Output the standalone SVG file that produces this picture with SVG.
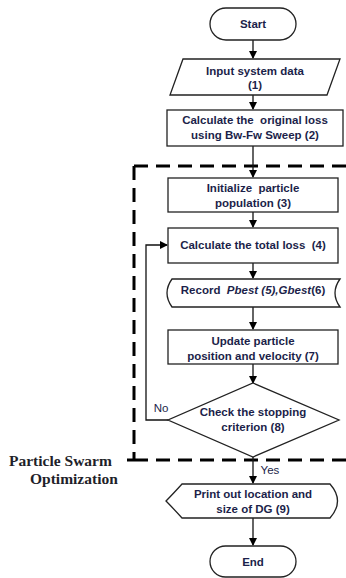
<svg xmlns="http://www.w3.org/2000/svg" width="346" height="578" viewBox="0 0 346 578">
<defs>
<marker id="ah" markerWidth="8" markerHeight="8" refX="7" refY="4" orient="auto" markerUnits="userSpaceOnUse">
<path d="M0,0 L8,4 L0,8 Z" fill="#000"/>
</marker>
<style>
.s{fill:#fff;stroke:#222;stroke-width:1.3}
.t{font-family:"Liberation Sans",Arial,sans-serif;font-size:11.5px;font-weight:bold;fill:#1c1f4a;text-anchor:middle;white-space:pre}
.c{fill:none;stroke:#111;stroke-width:1.3}
.d{fill:none;stroke:#000;stroke-width:3;stroke-dasharray:14 8}
.p{font-family:"Liberation Serif","Times New Roman",serif;font-size:15.5px;font-weight:bold;fill:#1f1f2a}
</style>
</defs>
<rect width="346" height="578" fill="#fff"/>
<g id="psoBox">
<path class="d" d="M346,166 H134"/>
<path class="d" d="M134,166 V460"/>
<path class="d" d="M346,460 H134"/>
<path d="M127,460 H134" stroke="#000" stroke-width="3"/>
<text class="p" x="9" y="466">Particle Swarm</text>
<text class="p" x="30" y="484">Optimization</text>
</g>
<g id="connectors">
<path class="c" d="M253,40 V58" marker-end="url(#ah)"/>
<path class="c" d="M253,95 V109" marker-end="url(#ah)"/>
<path class="c" d="M253,146 V177" marker-end="url(#ah)"/>
<path class="c" d="M253,212 V227" marker-end="url(#ah)"/>
<path class="c" d="M253,263 V278" marker-end="url(#ah)"/>
<path class="c" d="M253,307 V329" marker-end="url(#ah)"/>
<path class="c" d="M253,364 V383" marker-end="url(#ah)"/>
<path class="c" d="M168,420 H146 V245 H167" marker-end="url(#ah)"/>
<path class="c" d="M253,457 V483" marker-end="url(#ah)"/>
<path class="c" d="M253,518 V545" marker-end="url(#ah)"/>
<text class="t" x="161" y="412" style="font-weight:normal">No</text>
<text class="t" x="270" y="474" style="font-weight:normal">Yes</text>
</g>
<g id="start">
<rect class="s" x="210" y="8" width="86" height="32" rx="16"/>
<text class="t" x="253" y="28">Start</text>
</g>
<g id="input">
<path class="s" d="M183,59 H340 L327,95 H170 Z"/>
<text class="t" x="255" y="75">Input system data</text>
<text class="t" x="255" y="89">(1)</text>
</g>
<g id="origLoss">
<rect class="s" x="167" y="110" width="176" height="36"/>
<text class="t" x="255" y="124">Calculate the  original loss</text>
<text class="t" x="255" y="139">using Bw-Fw Sweep (2)</text>
</g>
<g id="init">
<rect class="s" x="168" y="178" width="170" height="34"/>
<text class="t" x="253" y="192">Initialize  particle</text>
<text class="t" x="253" y="207">population (3)</text>
</g>
<g id="totalLoss">
<rect class="s" x="168" y="228" width="170" height="35"/>
<text class="t" x="253" y="249">Calculate the total loss  (4)</text>
</g>
<g id="record">
<path class="s" d="M172,279 H340 Q330,293 340,307 H172 Q162,293 172,279 Z"/>
<text class="t" x="253" y="294">Record  <tspan font-style="italic">Pbest (5),Gbest</tspan>(6)</text>
</g>
<g id="update">
<rect class="s" x="168" y="330" width="170" height="34"/>
<text class="t" x="253" y="345">Update particle</text>
<text class="t" x="253" y="360">position and velocity (7)</text>
</g>
<g id="check">
<path class="s" d="M253,383 L339,420 L253,457 L168,420 Z"/>
<text class="t" x="253" y="416">Check the stopping</text>
<text class="t" x="253" y="431">criterion (8)</text>
</g>
<g id="print">
<path class="s" d="M182,484 H330 Q345,501 330,518 H182 Q172,507 166,501 Q172,495 182,484 Z"/>
<text class="t" x="253" y="498">Print out location and</text>
<text class="t" x="253" y="513">size of DG (9)</text>
</g>
<g id="end">
<rect class="s" x="210" y="546" width="86" height="31" rx="15.5"/>
<text class="t" x="253" y="566">End</text>
</g>
</svg>
